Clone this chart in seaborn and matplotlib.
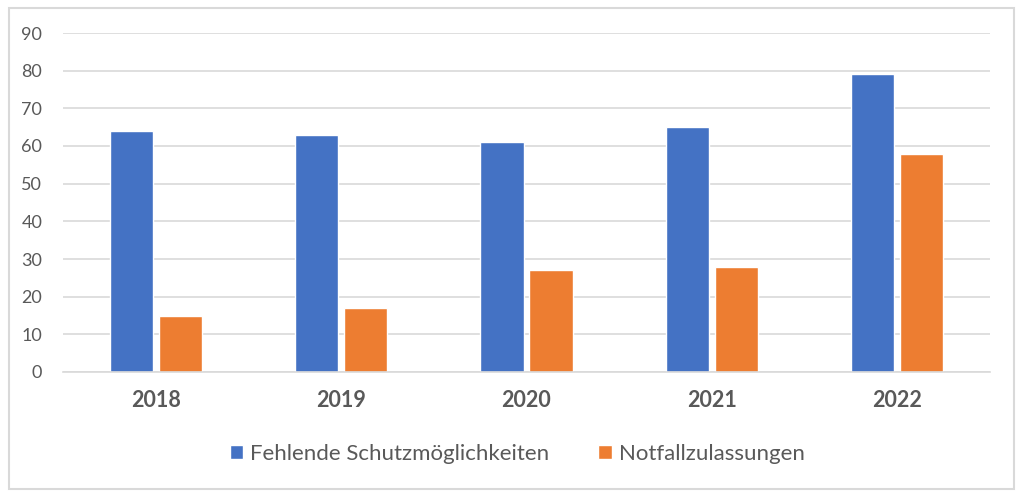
import matplotlib
matplotlib.use("Agg")
import matplotlib.pyplot as plt
import seaborn as sns
import pandas as pd
from matplotlib.patches import Rectangle

years = ["2018", "2019", "2020", "2021", "2022"]
fehlende = [64, 63, 61, 65, 79]
notfall = [15, 17, 27, 28, 58]
series_names = ["Fehlende Schutzmöglichkeiten", "Notfallzulassungen"]
colors = ["#4472C4", "#ED7D31"]

df = pd.DataFrame({
    "Jahr": years * 2,
    "Wert": fehlende + notfall,
    "Serie": [series_names[0]] * len(years) + [series_names[1]] * len(years),
})

sns.set_theme(style="white")
plt.rcParams["font.family"] = ["Lato", "DejaVu Sans"]
text_color = "#595959"

fig = plt.figure(figsize=(10.24, 4.97), dpi=100)
fig.patches.append(Rectangle((9/1024, 1 - 489/497), 1005/1024, 481/497,
                             transform=fig.transFigure, fill=False,
                             edgecolor="#D9D9D9", linewidth=1.5))
ax = fig.add_axes([63/1024, 1 - 372/497, 927/1024, 339/497])

sns.barplot(data=df, x="Jahr", y="Wert", hue="Serie", palette=colors,
            width=0.53, gap=0.12, ax=ax, saturation=1, errorbar=None)

ax.set_ylim(0, 90)
ax.set_xlim(-0.5, 4.5)
ax.set_yticks(range(0, 91, 10))
ax.yaxis.grid(True, color="#D9D9D9", linewidth=1.2)
ax.set_axisbelow(True)
for s in ["top", "right", "left"]:
    ax.spines[s].set_visible(False)
ax.spines["bottom"].set_color("#D9D9D9")
ax.spines["bottom"].set_linewidth(1.2)
ax.set_xlabel("")
ax.set_ylabel("")
ax.tick_params(axis="y", length=0, pad=15, labelsize=13, labelcolor=text_color)
ax.tick_params(axis="x", length=0, pad=13, labelsize=15.5, labelcolor=text_color)
for lbl in ax.get_xticklabels():
    lbl.set_fontweight("bold")

handles, labels = ax.get_legend_handles_labels()
ax.legend(handles, labels, loc="center", bbox_to_anchor=(517/1024, 1 - 454/497),
          bbox_transform=fig.transFigure, ncol=2, frameon=False,
          fontsize=16, handlelength=0.62, handleheight=0.62,
          handletextpad=0.3, columnspacing=2.2, labelcolor=text_color)

fig.savefig("out.png", dpi=100)
